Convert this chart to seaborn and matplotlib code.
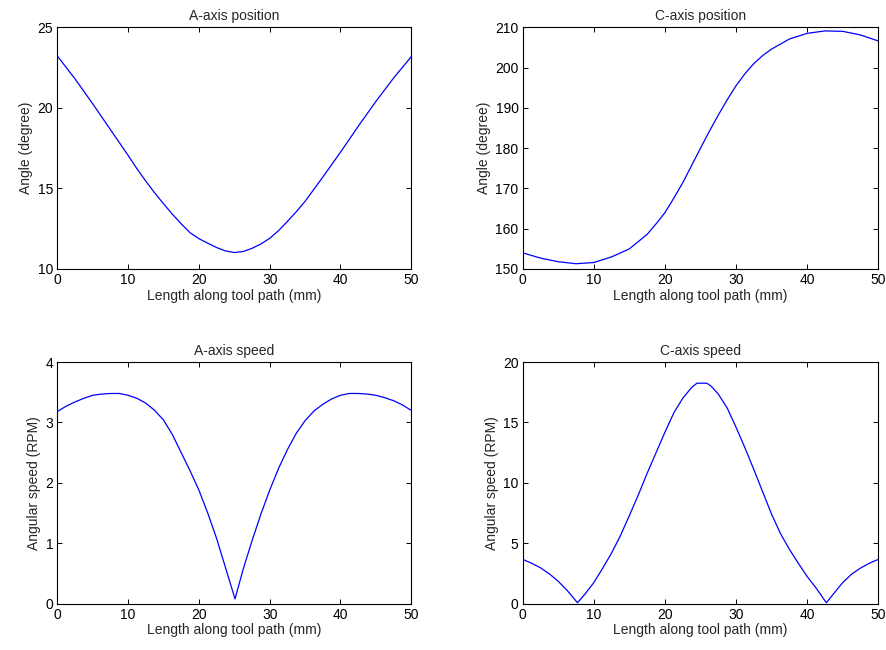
import numpy as np
import pandas as pd
import matplotlib
matplotlib.use("Agg")
import matplotlib.pyplot as plt
import seaborn as sns

# ---- data ----
a_pos_x = [0, 2.5, 5, 7.5, 10, 11.25, 12.5, 13.75, 15, 16.25, 17.5, 18.75, 20, 21.25, 22.5, 23.75, 25, 26.25,
           27.5, 28.75, 30, 31.25, 32.5, 33.75, 35, 36.25, 37.5, 40, 42.5, 45, 47.5, 50]
a_pos_y = [23.22, 21.8, 20.25, 18.65, 17.05, 16.22, 15.45, 14.72, 14.05, 13.4, 12.8, 12.25, 11.88, 11.6, 11.33, 11.12, 11.02, 11.08,
           11.28, 11.55, 11.9, 12.38, 12.95, 13.55, 14.2, 14.95, 15.7, 17.25, 18.85, 20.4, 21.85, 23.18]

c_pos_x = [0, 2.5, 5, 7.5, 10, 12.5, 15, 17.5, 18.75, 20, 21.25, 22.5, 23.75, 25, 26.25, 27.5,
           28.75, 30, 31.25, 32.5, 33.75, 35, 37.5, 40, 42.5, 45, 47.5, 50]
c_pos_y = [154.0, 152.7, 151.8, 151.3, 151.6, 153.0, 155.0, 158.6, 161.2, 164.0, 167.6, 171.4, 175.7, 180.0, 184.2, 188.2,
           192.0, 195.5, 198.5, 201.0, 203.0, 204.6, 207.1, 208.5, 209.1, 209.0, 208.1, 206.6]

a_spd_x = [0, 1.25, 2.5, 3.75, 5, 6.25, 7.5, 8.75, 10, 11.25, 12.5, 13.75, 15, 16.25, 17.5, 18.75, 20,
           21.25, 22.5, 23.75, 25.1, 26.25, 27.5, 28.75, 30, 31.25, 32.5, 33.75, 35, 36.25, 37.5,
           38.75, 40, 41.25, 42.5, 43.75, 45, 46.25, 47.5, 48.75, 50]
a_spd_y = [3.18, 3.27, 3.34, 3.40, 3.45, 3.47, 3.48, 3.48, 3.45, 3.40, 3.32, 3.2, 3.04, 2.8, 2.5, 2.2, 1.88,
           1.5, 1.08, 0.6, 0.08, 0.57, 1.04, 1.48, 1.88, 2.24, 2.55, 2.82, 3.03, 3.19, 3.3,
           3.39, 3.45, 3.48, 3.48, 3.47, 3.45, 3.41, 3.36, 3.29, 3.2]

c_spd_x = [0, 1.25, 2.5, 3.75, 5, 6.25, 7.7, 8.75, 10, 11.25, 12.5, 13.75, 15, 16.25, 17.5, 18.75, 20,
           21.25, 22.5, 23.75, 24.5, 25.9, 26.5, 27.5, 28.75, 30, 31.25, 32.5, 33.75, 35, 36.25, 37.5,
           38.75, 40, 41.25, 42.7, 43.75, 45, 46.25, 47.5, 48.75, 50]
c_spd_y = [3.67, 3.35, 2.97, 2.47, 1.85, 1.1, 0.08, 0.8, 1.75, 2.95, 4.2, 5.65, 7.3, 9.0, 10.8, 12.5, 14.2,
           15.8, 17.0, 17.9, 18.25, 18.25, 18.0, 17.35, 16.2, 14.6, 12.9, 11.1, 9.25, 7.4, 5.8, 4.5,
           3.35, 2.25, 1.3, 0.08, 0.85, 1.75, 2.45, 2.95, 3.35, 3.67]

titles = ["A-axis position", "C-axis position", "A-axis speed", "C-axis speed"]
ylabels = ["Angle (degree)", "Angle (degree)", "Angular speed (RPM)", "Angular speed (RPM)"]
xlabel = "Length along tool path (mm)"
ylims = [(10, 25), (150, 210), (0, 4), (0, 20)]
yticks = [[10, 15, 20, 25], [150, 160, 170, 180, 190, 200, 210], [0, 1, 2, 3, 4], [0, 5, 10, 15, 20]]
xticks = [0, 10, 20, 30, 40, 50]

sns.set_theme(style="ticks")
plt.rcParams["font.family"] = ["Liberation Sans", "DejaVu Sans"]
plt.rcParams["xtick.direction"] = "in"
plt.rcParams["ytick.direction"] = "in"

fig = plt.figure(figsize=(8.86, 6.5), dpi=100)
positions = [
    [0.0647, 0.5862, 0.3995, 0.3718],
    [0.5900, 0.5862, 0.4013, 0.3718],
    [0.0647, 0.0712, 0.3995, 0.3718],
    [0.5900, 0.0712, 0.4013, 0.3718],
]
series = [(a_pos_x, a_pos_y), (c_pos_x, c_pos_y), (a_spd_x, a_spd_y), (c_spd_x, c_spd_y)]

for i, (xs, ys) in enumerate(series):
    ax = fig.add_axes(positions[i])
    df = pd.DataFrame({"x": xs, "y": ys})
    sns.lineplot(data=df, x="x", y="y", ax=ax, color=(0, 0, 1), linewidth=0.9, sort=False)
    ax.set_xlim(0, 50)
    ax.set_ylim(*ylims[i])
    ax.set_xticks(xticks)
    ax.set_yticks(yticks[i])
    ax.set_title(titles[i], fontsize=10, pad=5)
    ax.set_xlabel(xlabel, fontsize=10, labelpad=1)
    ax.set_ylabel(ylabels[i], fontsize=10, labelpad=3)
    ax.tick_params(axis="both", which="both", direction="in", length=3.5, width=0.7,
                   top=True, right=True, labelsize=10, pad=3, colors="black")
    for s in ax.spines.values():
        s.set_visible(True)
        s.set_linewidth(0.8)
        s.set_color("black")

fig.savefig("out.png", dpi=100, facecolor="white")
